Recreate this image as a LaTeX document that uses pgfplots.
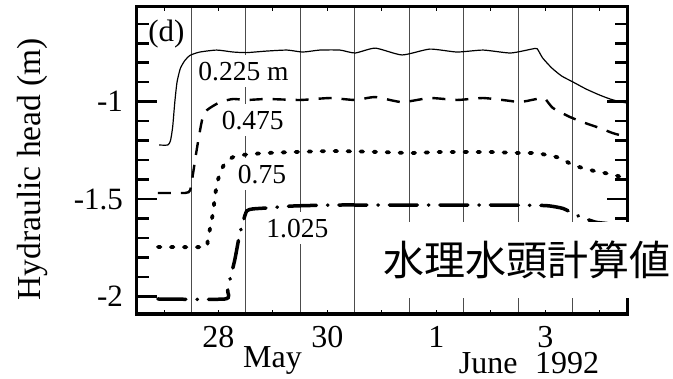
\documentclass[border=0pt]{standalone}
\usepackage{fontspec}
\setmainfont{Liberation Serif}
\newfontfamily\jpfont{Noto Sans CJK JP}
\usepackage{pgfplots}
\pgfplotsset{compat=1.18}

\newcommand{\fs}[1]{\fontsize{#1}{1.15\dimexpr#1\relax}\selectfont}

\pgfplotsset{
  headframe/.style={
    at={(0,0)}, anchor=south west,
    scale only axis, width=490.3bp, height=307bp,
    xmin=27, xmax=36, ymin=-2.089, ymax=-0.514,
    tick align=inside, clip=false,
  },
}

\begin{document}
\begin{tikzpicture}
\path[use as bounding box] (-136.7bp,-65bp) rectangle (536.3bp,314bp);
% day grid and date labels
\begin{axis}[
  headframe,
  major tick length=0pt,
  xtick={27.5,28.5,...,35.5},
  xticklabels={,28,,30,,1,,3,},
  extra x ticks={28,...,35},
  extra x tick labels={},
  extra x tick style={grid=major},
  major grid style={line width=0.9bp, black!70},
  ytick=\empty,
  xticklabel style={font=\fs{32bp}, anchor=base, inner sep=0pt, yshift=-33bp},
]
\end{axis}
% head series
\begin{axis}[
  headframe, name=ax,
  xtick=\empty,
  ytick={-2,-1.5,-1},
  yticklabels={-2,-1.5,-1},
  major tick length=0pt,
  yticklabel style={font=\fs{31bp}, anchor=east, inner sep=0pt, xshift=-13.5bp},
  ylabel={Hydraulic head (m)},
  ylabel style={at={(axis description cs:-0.197,0.472)}, anchor=base,
    font=\fs{33.5bp}, inner sep=0pt},
]
% 0.225 m
\addplot[black, line width=1.2bp, smooth, tension=0.35] coordinates {
(27.41,-1.222) (27.57,-1.222) (27.62,-1.20) (27.66,-1.13) (27.70,-1.00)
(27.74,-0.90) (27.80,-0.83) (27.88,-0.79) (27.98,-0.762) (28.16,-0.745)
(28.47,-0.735) (28.77,-0.745) (29.02,-0.748) (29.39,-0.740) (29.76,-0.735)
(30.05,-0.745) (30.36,-0.735) (30.73,-0.735) (31.01,-0.750) (31.38,-0.725)
(31.87,-0.760) (32.38,-0.730) (32.88,-0.745) (33.36,-0.735) (33.86,-0.750)
(34.25,-0.730) (34.35,-0.728) (34.45,-0.775) (34.62,-0.827) (34.80,-0.868)
(35.01,-0.899) (35.25,-0.935) (35.50,-0.966) (35.70,-0.987) (35.90,-1.002)
(36.0,-1.006)};
% 0.475 m
\addplot[black, line width=2.4bp, dash pattern=on 13bp off 10bp, smooth, tension=0.35] coordinates {
(27.39,-1.468) (27.89,-1.468) (27.98,-1.455) (28.03,-1.376) (28.11,-1.232)
(28.20,-1.094) (28.29,-1.043) (28.53,-1.002) (28.77,-0.986) (29.02,-0.991)
(29.39,-0.986) (30.0,-0.991) (30.55,-0.981) (31.01,-0.991) (31.38,-0.976)
(31.87,-1.002) (32.38,-0.981) (32.88,-0.991) (33.36,-0.981) (33.86,-0.996)
(34.04,-1.002) (34.40,-0.983) (34.50,-0.986) (34.64,-1.032) (34.95,-1.078)
(35.23,-1.109) (35.50,-1.135) (35.74,-1.161) (36.0,-1.181)};
% 0.75 m
\addplot[black, line width=3.8bp, line cap=round, dash pattern=on 2.5bp off 10.5bp, smooth, tension=0.35] coordinates {
(27.39,-1.745) (28.25,-1.745) (28.30,-1.72) (28.35,-1.643) (28.40,-1.571)
(28.44,-1.478) (28.49,-1.402) (28.57,-1.340) (28.64,-1.309) (28.77,-1.284)
(28.95,-1.273) (29.39,-1.263) (30.55,-1.253) (31.47,-1.258) (32.02,-1.263)
(32.57,-1.258) (33.49,-1.258) (34.04,-1.263) (34.31,-1.263) (34.53,-1.273)
(34.77,-1.289) (35.01,-1.325) (35.32,-1.350) (35.50,-1.361) (35.69,-1.371)
(35.90,-1.386) (36.0,-1.391)};
% 1.025 m
\addplot[black, line width=3.5bp, line cap=round, dash pattern=on 28bp off 11bp on 0.5bp off 11bp, smooth, tension=0.35] coordinates {
(27.39,-2.012) (28.62,-2.012) (28.67,-1.97) (28.71,-1.914) (28.80,-1.812)
(28.88,-1.694) (28.95,-1.617) (29.02,-1.56) (29.13,-1.550) (29.39,-1.545)
(29.87,-1.535) (30.60,-1.530) (31.5,-1.530) (32.5,-1.530) (33.5,-1.530)
(34.40,-1.532) (34.59,-1.535) (34.83,-1.548) (35.10,-1.585) (35.41,-1.617)
(35.63,-1.625) (36.0,-1.645)};

\node[anchor=base west, inner sep=0pt, font=\fs{31bp}] at (axis cs:27.21,-0.689) {(d)};
\begin{scope}[every node/.style={anchor=base, fill=white, inner xsep=3bp, inner ysep=7bp, font=\fs{27.5bp}}]
\node at (axis cs:28.96,-0.889) {0.225 m};
\node at (axis cs:29.13,-1.140) {0.475};
\node at (axis cs:29.30,-1.417) {0.75};
\node at (axis cs:29.95,-1.694) {1.025};
\end{scope}
\end{axis}
% heavy inward ticks on both vertical sides (0.1 m steps)
\foreach \v/\len in {-2/20,-1.9/12,-1.8/12,-1.7/12,-1.6/12,-1.5/20,-1.4/12,-1.3/12,
                     -1.2/12,-1.1/12,-1/20,-0.9/12,-0.8/12,-0.7/12,-0.6/12} {
  \pgfmathsetmacro\yy{(\v+2.089)*194.92}
  \draw[line width=2.5bp] (0bp,\yy bp) -- ++(\len bp,0bp);
  \draw[line width=2.5bp] (490.3bp,\yy bp) -- ++(-\len bp,0bp);
}
% light half-day ticks on top and bottom
\foreach \d in {27.5,28.5,...,35.5} {
  \pgfmathsetmacro\xx{(\d-27)*54.478}
  \draw[line width=0.8bp] (\xx bp,0bp) -- ++(0bp,4bp);
  \draw[line width=0.8bp] (\xx bp,307bp) -- ++(0bp,-4bp);
}
% heavy frame
\draw[line width=3bp] (ax.south west) rectangle (ax.north east);
\node[anchor=base, font=\fs{32bp}] at (135.8bp,-53bp) {May};
\node[anchor=base, font=\fs{32bp}] at (392.3bp,-59bp) {June\hspace{0.55em}1992};
\node[fill=white, inner sep=0pt, minimum width=295bp, minimum height=76bp,
  font=\jpfont\fs{41bp}] at (389.8bp,54bp) {水理水頭計算値};
\end{tikzpicture}
\end{document}
